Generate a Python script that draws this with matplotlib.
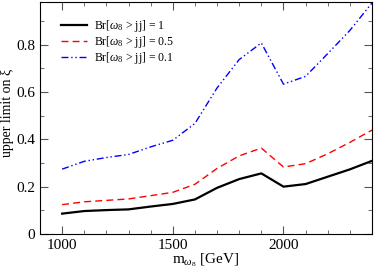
import matplotlib
matplotlib.use('Agg')
import matplotlib.pyplot as plt
import numpy as np

plt.rcParams['font.family'] = ['Liberation Serif', 'DejaVu Serif']
plt.rcParams['mathtext.fontset'] = 'custom'
plt.rcParams['mathtext.rm'] = 'Liberation Serif'
plt.rcParams['mathtext.it'] = 'Liberation Serif:italic'

mass = [1000, 1100, 1200, 1300, 1400, 1500, 1600, 1700, 1800, 1900, 2000, 2100, 2200, 2300, 2400]
br_1 = [0.086, 0.097, 0.101, 0.104, 0.116, 0.127, 0.146, 0.195, 0.232, 0.256, 0.200, 0.211, 0.242, 0.273, 0.309]
br_05 = [0.124, 0.136, 0.142, 0.148, 0.162, 0.176, 0.210, 0.277, 0.330, 0.363, 0.283, 0.297, 0.339, 0.387, 0.439]
br_01 = [0.274, 0.307, 0.323, 0.336, 0.368, 0.396, 0.467, 0.617, 0.737, 0.807, 0.633, 0.666, 0.762, 0.860, 0.976]

fig = plt.figure(figsize=(3.74, 2.73), dpi=100)
ax = fig.add_axes([40 / 374, 1 - 234 / 273, 332 / 374, 232 / 273])

ax.plot(mass, br_1, color='black', lw=1.6, label=r'Br[$\omega_8$ > jj] = 1')
ax.plot(mass, br_05, color='red', lw=1.0, dashes=(5, 3), label=r'Br[$\omega_8$ > jj] = 0.5')
ax.plot(mass, br_01, color='blue', lw=1.0, dashes=(5, 2, 1, 2, 1, 2), label=r'Br[$\omega_8$ > jj] = 0.1')

ax.set_xlim(900, 2400)
ax.set_ylim(0, 0.98)
ax.set_xticks([1000, 1500, 2000])
ax.set_xticks(np.arange(900, 2401, 100), minor=True)
ax.set_yticks([0, 0.2, 0.4, 0.6, 0.8])
ax.set_yticklabels(['0', '0.2', '0.4', '0.6', '0.8'])
ax.set_yticks(np.arange(0, 0.98, 0.1), minor=True)
ax.tick_params(which='both', direction='in', top=True, right=True, labelsize=11, color='#555555')
ax.tick_params(which='major', length=6)
ax.tick_params(which='minor', length=3)

ax.set_xlabel(r'm$_{\omega_8}$ [GeV]', fontsize=11, labelpad=0)
ax.set_ylabel('upper limit on ξ', fontsize=10)
ax.yaxis.set_label_coords(-0.077, 0.52)

ax.legend(loc='upper left', bbox_to_anchor=(0.05, 0.95), frameon=False, fontsize=8.5,
          handlelength=2.2, labelspacing=0.0, handletextpad=0.6, borderaxespad=0)

fig.savefig('out.png', dpi=100)
